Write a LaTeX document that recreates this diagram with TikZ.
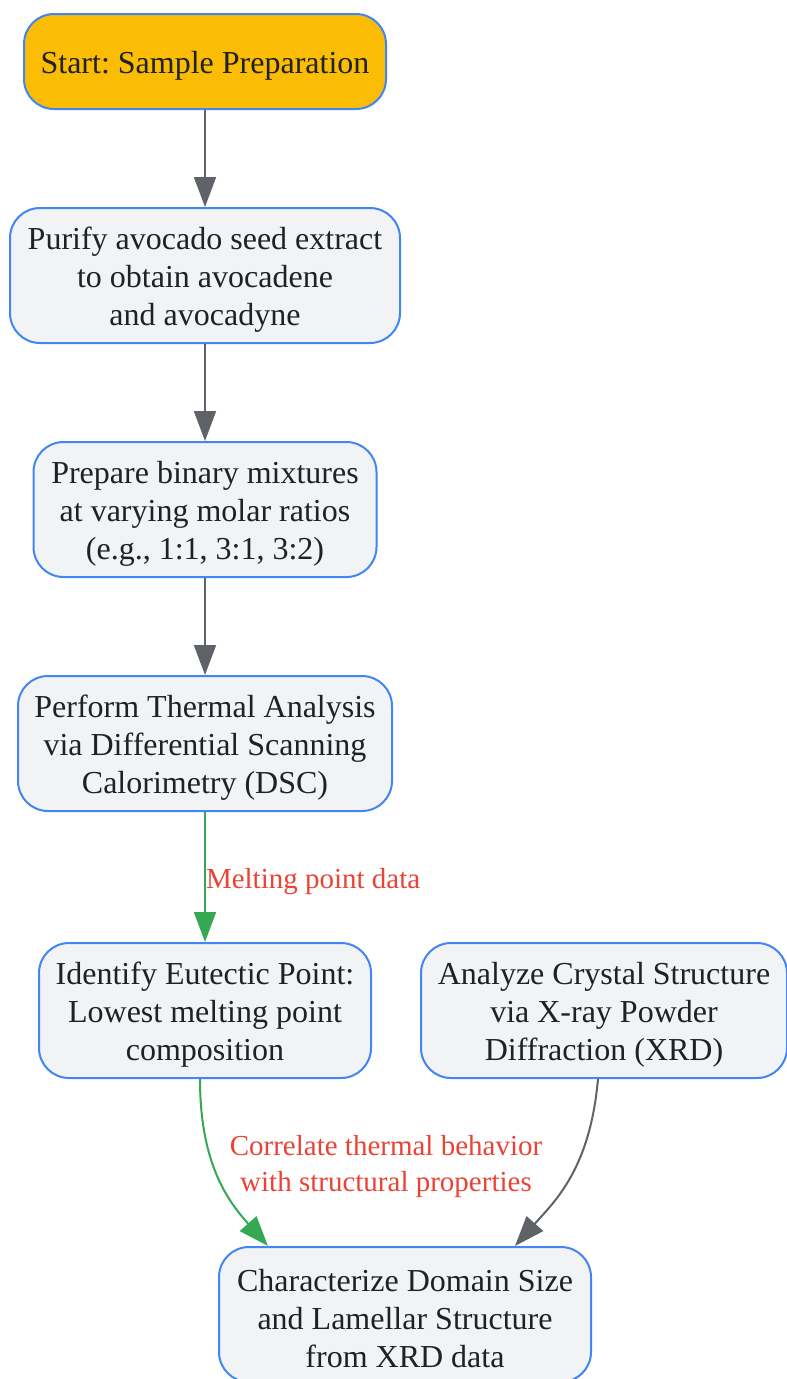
\documentclass[tikz,border=0pt]{standalone}
\usepackage{fontspec}
\setmainfont{Liberation Serif}
\frenchspacing
\usetikzlibrary{arrows.meta}
\definecolor{nodeblue}{HTML}{4285F4}
\definecolor{nodefill}{HTML}{F1F3F4}
\definecolor{startfill}{HTML}{FBBC04}
\definecolor{txt}{HTML}{202124}
\definecolor{edgegray}{HTML}{5F6368}
\definecolor{edgegreen}{HTML}{34A853}
\definecolor{lblred}{HTML}{EA4335}
\begin{document}
\begin{tikzpicture}[x=1pt,y=-1pt,
  box/.style={draw=nodeblue, line width=2pt, fill=nodefill, rounded corners=30pt,
    inner sep=0pt, minimum height=135pt},
  startbox/.style={box, fill=startfill, minimum height=95pt},
  boxtext/.style={align=center, text=txt, inner sep=0pt, font=\fontsize{32}{38}\selectfont},
  conn/.style={draw=edgegray, line width=2pt, -{Triangle[length=30pt,width=22pt]}},
  gconn/.style={conn, draw=edgegreen},
  lbl/.style={text=lblred, font=\fontsize{29}{36}\selectfont, align=center, inner sep=0pt}]
\useasboundingbox (0,0) rectangle (787,1379);
\node[startbox, minimum width=362pt] (start) at (205,61.5) {};
\node[box, minimum width=390pt] (purify) at (205,275.5) {};
\node[box, minimum width=343pt] (prepare) at (205,509.5) {};
\node[box, minimum width=374pt] (perform) at (205,743.5) {};
\node[box, minimum width=332pt] (identify) at (205,1010.5) {};
\node[box, minimum width=366pt] (analyze) at (604,1010.5) {};
\node[box, minimum width=372pt] (charac) at (405,1314.5) {};
\node[boxtext] (start-t) at ([yshift=-4pt]start.center) {Start: Sample Preparation};
\node[boxtext] (purify-t) at ([yshift=-4.5pt]purify.center) {Purify avocado seed extract\\to obtain avocadene\\and avocadyne};
\node[boxtext] (prepare-t) at ([yshift=-4.5pt]prepare.center) {Prepare binary mixtures\\at varying molar ratios\\(e.g., 1:1, 3:1, 3:2)};
\node[boxtext] (perform-t) at ([yshift=-4.5pt]perform.center) {Perform Thermal Analysis\\via Differential Scanning\\Calorimetry (DSC)};
\node[boxtext] (identify-t) at ([yshift=-4.5pt]identify.center) {Identify Eutectic Point:\\Lowest melting point\\composition};
\node[boxtext] (analyze-t) at ([yshift=-4.5pt]analyze.center) {Analyze Crystal Structure\\via X-ray Powder\\Diffraction (XRD)};
\node[boxtext] (charac-t) at ([yshift=-4.5pt]charac.center) {Characterize Domain Size\\and Lamellar Structure\\from XRD data};
\draw[conn] (start) -- (purify);
\draw[conn] (purify) -- (prepare);
\draw[conn] (prepare) -- (perform);
\draw[gconn] (perform) -- node[lbl, anchor=west, xshift=0pt, yshift=-5pt] {Melting point data} (identify);
\draw[gconn] ([xshift=-5pt]identify.south) .. controls +(0,85) and +(-40,-45) .. ([xshift=-137pt]charac.north);
\draw[conn] ([xshift=-6pt]analyze.south) .. controls +(-8,90) and +(40,-45) .. ([xshift=110pt]charac.north);
\node[lbl] (corr) at (386,1166.5) {Correlate thermal behavior\\with structural properties};
\end{tikzpicture}
\end{document}
